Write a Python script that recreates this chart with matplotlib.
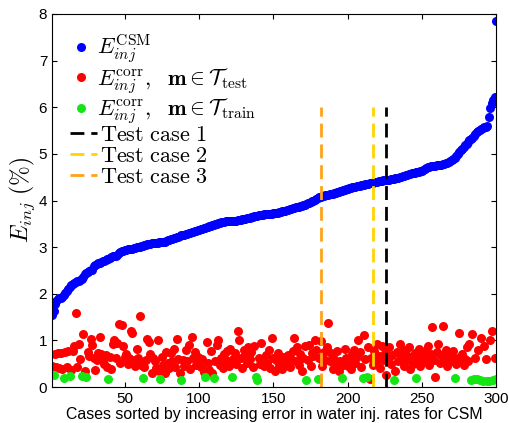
import matplotlib
matplotlib.use('Agg')
import matplotlib.pyplot as plt
import numpy as np

plt.rcParams['font.family'] = ['Liberation Sans', 'DejaVu Sans']
plt.rcParams['mathtext.fontset'] = 'cm'

# sorted CSM error, one value per case (1..300)
csm_err = [
    1.55, 1.62, 1.78, 1.85, 1.88, 1.90, 1.92, 1.94, 1.97, 2.02,
    2.06, 2.10, 2.14, 2.18, 2.21, 2.23, 2.25, 2.27, 2.28, 2.30,
    2.31, 2.37, 2.42, 2.45, 2.47, 2.49, 2.50, 2.52, 2.60, 2.62,
    2.64, 2.65, 2.67, 2.68, 2.70, 2.71, 2.72, 2.74, 2.75, 2.77,
    2.78, 2.80, 2.81, 2.82, 2.83, 2.87, 2.90, 2.91, 2.92, 2.93,
    2.94, 2.95, 2.96, 2.96, 2.97, 2.98, 2.99, 3.00, 3.00, 3.01,
    3.02, 3.03, 3.04, 3.05, 3.06, 3.07, 3.07, 3.08, 3.08, 3.09,
    3.09, 3.09, 3.10, 3.10, 3.10, 3.11, 3.12, 3.13, 3.15, 3.16,
    3.17, 3.18, 3.19, 3.20, 3.21, 3.22, 3.23, 3.25, 3.26, 3.27,
    3.28, 3.29, 3.30, 3.31, 3.32, 3.33, 3.34, 3.35, 3.36, 3.37,
    3.38, 3.39, 3.40, 3.42, 3.43, 3.44, 3.45, 3.46, 3.47, 3.48,
    3.49, 3.50, 3.51, 3.52, 3.53, 3.53, 3.54, 3.55, 3.55, 3.56,
    3.56, 3.56, 3.57, 3.57, 3.57, 3.58, 3.58, 3.59, 3.60, 3.61,
    3.61, 3.62, 3.63, 3.63, 3.64, 3.65, 3.66, 3.66, 3.67, 3.68,
    3.68, 3.69, 3.69, 3.70, 3.70, 3.71, 3.71, 3.72, 3.72, 3.73,
    3.73, 3.74, 3.74, 3.75, 3.76, 3.77, 3.77, 3.78, 3.79, 3.80,
    3.81, 3.82, 3.83, 3.84, 3.85, 3.86, 3.87, 3.88, 3.89, 3.90,
    3.91, 3.92, 3.94, 3.95, 3.97, 3.98, 4.00, 4.02, 4.04, 4.06,
    4.07, 4.08, 4.09, 4.10, 4.11, 4.12, 4.12, 4.13, 4.14, 4.15,
    4.16, 4.17, 4.18, 4.19, 4.20, 4.21, 4.22, 4.23, 4.24, 4.25,
    4.26, 4.27, 4.28, 4.29, 4.30, 4.31, 4.31, 4.32, 4.33, 4.34,
    4.34, 4.35, 4.36, 4.36, 4.37, 4.38, 4.38, 4.39, 4.40, 4.40,
    4.41, 4.41, 4.42, 4.43, 4.43, 4.44, 4.44, 4.45, 4.46, 4.46,
    4.47, 4.48, 4.48, 4.49, 4.50, 4.51, 4.52, 4.53, 4.54, 4.55,
    4.56, 4.57, 4.58, 4.59, 4.60, 4.61, 4.62, 4.62, 4.63, 4.64,
    4.66, 4.68, 4.70, 4.71, 4.72, 4.73, 4.74, 4.75, 4.75, 4.76,
    4.76, 4.77, 4.77, 4.78, 4.79, 4.80, 4.81, 4.83, 4.85, 4.87,
    4.89, 4.92, 4.96, 5.00, 5.04, 5.08, 5.11, 5.14, 5.18, 5.22,
    5.26, 5.29, 5.32, 5.35, 5.38, 5.42, 5.46, 5.49, 5.51, 5.53,
    5.55, 5.57, 5.58, 5.60, 5.78, 5.98, 6.08, 6.15, 6.23, 7.84,
]

# corrected error, one value per case (1..300)
corr_err = [
    0.45, 0.26, 0.70, 0.42, 0.72, 0.40, 0.74, 0.38, 0.19, 0.75,
    0.42, 0.77, 0.24, 0.36, 0.78, 0.88, 1.58, 0.42, 0.92, 0.60,
    0.24, 1.13, 0.35, 0.22, 0.76, 0.66, 1.02, 0.91, 0.62, 0.36,
    0.58, 0.74, 1.07, 0.70, 0.57, 0.49, 0.68, 0.44, 0.17, 0.65,
    0.38, 0.92, 1.00, 0.62, 0.95, 1.36, 0.52, 1.32, 0.88, 0.64,
    0.70, 0.50, 0.62, 1.20, 1.15, 0.58, 0.45, 0.82, 0.62, 1.52,
    0.48, 0.20, 0.42, 0.58, 1.03, 0.96, 0.70, 0.30, 0.62, 0.56,
    0.40, 1.00, 0.35, 0.17, 0.65, 0.48, 0.30, 0.75, 0.52, 0.40,
    0.72, 0.55, 0.82, 0.42, 1.02, 0.60, 0.30, 0.15, 0.58, 0.45,
    0.80, 0.55, 0.90, 0.38, 1.08, 0.62, 0.75, 0.48, 0.65, 0.55,
    0.42, 0.60, 0.33, 0.22, 0.96, 0.52, 0.36, 0.78, 0.30, 0.20,
    0.55, 0.90, 1.00, 0.48, 0.62, 0.40, 0.70, 0.58, 0.78, 0.45,
    0.82, 0.21, 0.60, 0.72, 0.50, 1.21, 1.00, 0.62, 0.40, 0.80,
    0.68, 0.52, 0.85, 0.60, 0.75, 0.42, 0.88, 0.22, 0.16, 0.62,
    0.50, 0.95, 0.58, 0.45, 0.68, 0.52, 0.80, 0.40, 1.05, 0.62,
    0.34, 0.58, 0.72, 0.45, 0.60, 0.38, 0.65, 0.55, 0.50, 0.68,
    0.42, 0.60, 0.78, 1.06, 0.55, 0.85, 0.48, 0.70, 0.35, 0.62,
    0.88, 0.15, 0.58, 0.90, 0.45, 0.72, 0.66, 1.00, 0.80, 0.17,
    0.62, 0.98, 0.45, 0.75, 0.58, 0.85, 1.38, 0.55, 0.72, 0.38,
    0.60, 0.42, 0.78, 0.35, 0.55, 0.19, 0.48, 0.82, 0.62, 0.45,
    0.58, 0.38, 0.70, 0.80, 0.52, 0.65, 1.00, 0.75, 0.42, 0.19,
    1.12, 0.60, 0.21, 0.85, 0.17, 0.62, 0.48, 0.78, 0.55, 0.93,
    0.66, 0.40, 0.88, 0.58, 0.72, 0.26, 0.62, 0.85, 0.50, 0.68,
    0.16, 0.35, 0.75, 0.55, 0.92, 0.62, 0.80, 0.45, 0.70, 0.58,
    0.85, 0.38, 0.65, 0.50, 0.72, 0.19, 0.60, 0.82, 0.45, 0.68,
    0.55, 0.78, 0.62, 0.88, 0.48, 0.70, 1.28, 0.58, 0.22, 0.75,
    0.92, 0.52, 0.68, 1.30, 0.60, 0.80, 0.45, 0.72, 0.55, 0.65,
    0.78, 0.19, 0.50, 0.62, 1.16, 0.58, 0.70, 0.48, 0.60, 0.85,
    0.55, 0.92, 0.16, 1.14, 0.17, 0.62, 0.17, 0.80, 0.15, 1.05,
    0.14, 0.88, 0.60, 0.13, 0.14, 1.00, 1.21, 0.15, 0.62, 0.18,
]

# cases that belong to the training set
train_cases = [2, 9, 13, 21, 24, 39, 62, 74, 88, 104, 110, 122, 138, 139,
               172, 180, 196, 210, 213, 231, 246, 272, 283, 285, 287, 289,
               291, 294, 295, 298, 300]

test_case_pos = [226, 217, 182]
test_case_labels = [r'$\mathrm{Test\ case\ 1}$', r'$\mathrm{Test\ case\ 2}$',
                    r'$\mathrm{Test\ case\ 3}$']
test_case_colors = ['black', '#FFD400', '#FFA21A']

cases = np.arange(1, len(csm_err) + 1)
corr = np.array(corr_err)
is_train = np.isin(cases, train_cases)

fig = plt.figure(figsize=(5.1, 4.23), dpi=100)
ax = fig.add_axes([0.102, 0.085, 0.871, 0.882])

pts = []
pts += ax.plot(cases, csm_err, 'o', color='#0000FF', markersize=6.5, markeredgewidth=0,
               label=r'$E_{inj}^{\mathrm{CSM}}$')
pts += ax.plot(cases[~is_train], corr[~is_train], 'o', color='#FF0000', markersize=6.5,
               markeredgewidth=0,
               label=r'$E_{inj}^{\mathrm{corr}},\ \ \mathbf{m} \in \mathcal{T}_{\mathrm{test}}$')
pts += ax.plot(cases[is_train], corr[is_train], 'o', color='#14E614', markersize=6.5,
               markeredgewidth=0,
               label=r'$E_{inj}^{\mathrm{corr}},\ \ \mathbf{m} \in \mathcal{T}_{\mathrm{train}}$')

lines = []
for pos, lab, col in zip(test_case_pos, test_case_labels, test_case_colors):
    lines += ax.plot([pos, pos], [0, 6], '--', color=col, linewidth=2,
                     dashes=(5, 2.5), label=lab)

ax.set_xlim(1, 300)
ax.set_ylim(0, 8)
ax.set_xticks([50, 100, 150, 200, 250, 300])
ax.set_yticks(range(0, 9))
ax.tick_params(direction='in', top=True, right=True, length=3.5, labelsize=11)

ax.set_xlabel('Cases sorted by increasing error in water inj. rates for CSM',
              fontsize=11.4, labelpad=1)
ax.set_ylabel(r'$E_{inj}\ (\%)$', fontsize=17, labelpad=1)

leg1 = ax.legend(handles=pts, loc='upper left', frameon=False, fontsize=16,
                 numpoints=1, handlelength=0.9, handletextpad=0.25,
                 labelspacing=0.02, borderpad=0, borderaxespad=0,
                 bbox_to_anchor=(0.043, 0.95))
ax.add_artist(leg1)
ax.legend(handles=lines, loc='upper left', frameon=False, fontsize=16,
          handlelength=1.2, handletextpad=0.15, labelspacing=0.0,
          borderpad=0, borderaxespad=0, bbox_to_anchor=(0.041, 0.703))

plt.savefig('out.png', dpi=100)
